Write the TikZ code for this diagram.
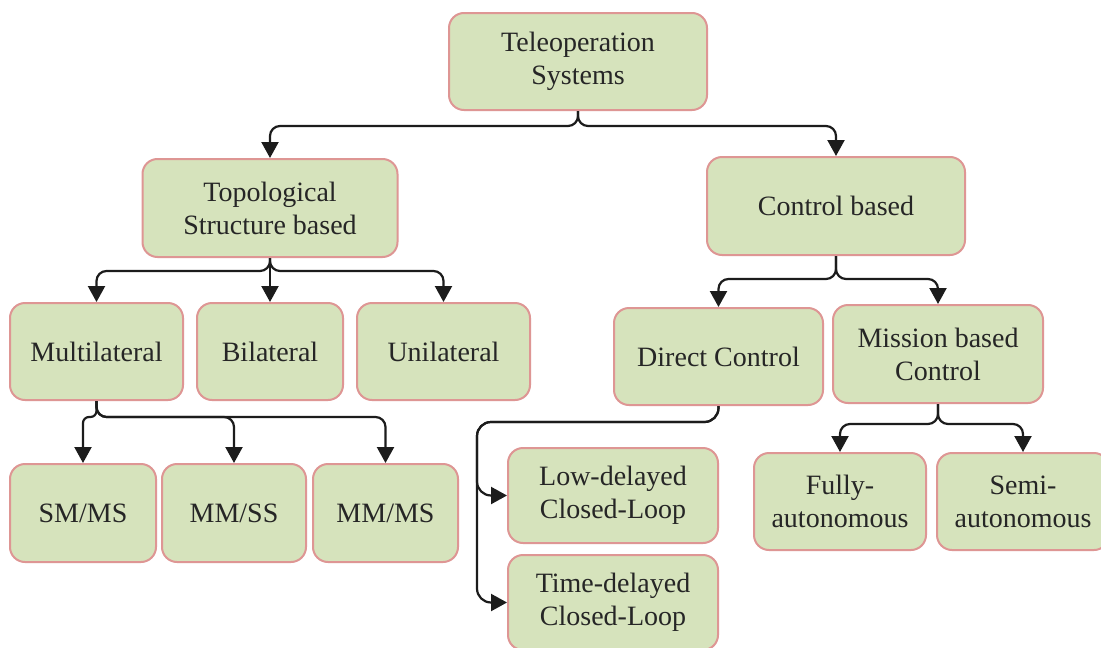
\documentclass[tikz,border=0pt]{standalone}
\usepackage{fontspec}
\setmainfont{Liberation Serif}
\usetikzlibrary{arrows.meta}
\definecolor{boxfill}{RGB}{214,227,188}
\definecolor{boxedge}{RGB}{222,150,148}
\definecolor{wire}{RGB}{28,28,28}
\tikzset{
  cat/.style={draw=boxedge, fill=boxfill, line width=2pt, rounded corners=15pt,
    align=center, inner sep=0pt, text=black!85,
    font=\fontsize{28}{33}\selectfont},
  conn/.style={draw=wire, line width=2.2pt, rounded corners=10pt,
    -{Triangle[width=17pt,length=16pt]}}
}
\begin{document}
\begin{tikzpicture}[x=1pt,y=-1pt]
\useasboundingbox (0,0) rectangle (1101,648);
\fill[white] (0,0) rectangle (1101,648);
\clip (0,0) rectangle (1101,648);

% categories
\node[cat, minimum width=258pt, minimum height=97pt] (teleop) at (578,61.5) {Teleoperation\\Systems};
\node[cat, minimum width=255pt, minimum height=98pt] (topo) at (270,208) {Topological\\Structure based};
\node[cat, minimum width=258pt, minimum height=98pt] (ctrl) at (836,206) {Control based};

\node[cat, minimum width=173pt, minimum height=97pt] (mult) at (96.5,351.5) {Multilateral};
\node[cat, minimum width=146pt, minimum height=97pt] (bil) at (270,351.5) {Bilateral};
\node[cat, minimum width=173pt, minimum height=97pt] (uni) at (443.5,351.5) {Unilateral};
\node[cat, minimum width=209pt, minimum height=97pt] (direct) at (718.5,356.5) {Direct Control};
\node[cat, minimum width=210pt, minimum height=98pt] (mission) at (938,354) {Mission based\\Control};

\node[cat, minimum width=146pt, minimum height=98pt] (smms) at (83,513) {SM/MS};
\node[cat, minimum width=144pt, minimum height=98pt] (mmss) at (234,513) {MM/SS};
\node[cat, minimum width=145pt, minimum height=98pt] (mmms) at (385.5,513) {MM/MS};

\node[cat, minimum width=210pt, minimum height=95pt] (low) at (613,495.5) {Low-delayed\\Closed-Loop};
\node[cat, minimum width=210pt, minimum height=95pt] (time) at (613,602.5) {Time-delayed\\Closed-Loop};
\node[cat, minimum width=172pt, minimum height=97pt] (fully) at (840,501.5) {Fully-\\autonomous};
\node[cat, minimum width=172pt, minimum height=97pt] (semi) at (1023,501.5) {Semi-\\autonomous};

% connectors
\draw[conn] (teleop.south) -- ++(0,15) -| (topo.north);
\draw[conn] (teleop.south) -- ++(0,15) -| (ctrl.north);

\draw[conn] (topo.south) -- ++(0,13) -| (mult.north);
\draw[conn] (topo.south) -- (bil.north);
\draw[conn] (topo.south) -- ++(0,13) -| (uni.north);

\draw[conn] (ctrl.south) -- ++(0,23) -| (direct.north);
\draw[conn] (ctrl.south) -- ++(0,23) -| (mission.north);

\draw[conn, rounded corners=6pt] (mult.south) -- ++(0,16) -| (smms.north);
\draw[conn] (mult.south) -- ++(0,16) -| (mmss.north);
\draw[conn] (mult.south) -- ++(0,16) -| (mmms.north);

\coordinate (rail) at (477,422);
\draw[conn, rounded corners=14pt] (direct.south) |- (rail) |- (low.west);
\draw[conn, rounded corners=14pt] (direct.south) |- (rail) |- (time.west);

\draw[conn] (mission.south) -- ++(0,20) -| (fully.north);
\draw[conn] (mission.south) -- ++(0,20) -| (semi.north);
\end{tikzpicture}
\end{document}
